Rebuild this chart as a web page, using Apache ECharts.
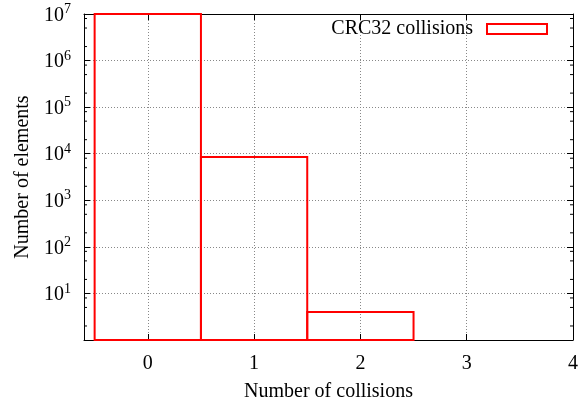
<!DOCTYPE html>
<html>
<head>
<meta charset="utf-8">
<script src="https://cdn.jsdelivr.net/npm/echarts@6/dist/echarts.min.js"></script>
<style>
  html, body { margin: 0; padding: 0; background: #fff; }
  #chart { width: 585px; height: 407px; }
</style>
</head>
<body>
<div id="chart"></div>
<script>
// number of collisions per element, and how many elements had it
var collisions = [0, 1, 2];
var counts = [9990000, 8500, 4];
var xTicks = [0, 1, 2, 3, 4];
var yTicks = [1, 10, 100, 1000, 10000, 100000, 1000000, 10000000];
var yMinorTicks = [];
yTicks.slice(0, -1).forEach(function (d) {
  [2, 5, 8].forEach(function (m) { yMinorTicks.push(d * m); });
});

var font = 'Liberation Serif';
var red = '#ff0000';

function yLabel(v) {
  var e = Math.round(Math.log10(v));
  if (e === 0) return '';
  return '{b|10}{e|' + e + '}';
}

var chart = echarts.init(document.getElementById('chart'));

var xBase = {
  type: 'value', min: -0.6, max: 4,
  axisLine: { show: true, onZero: false, lineStyle: { color: '#000', width: 1 } },
  axisTick: { show: true, inside: true, length: 6, customValues: xTicks, lineStyle: { color: '#000' } },
  splitLine: { show: false }
};
var yBase = {
  type: 'log', logBase: 10, min: 1, max: 10000000,
  axisLine: { show: true, onZero: false, lineStyle: { color: '#000', width: 1 } },
  axisTick: { show: true, inside: true, length: 6, lineStyle: { color: '#000' } },
  splitLine: { show: false }
};

chart.setOption({
  animation: false,
  textStyle: { fontFamily: font },
  grid: { left: 84, right: 12, top: 14, bottom: 64 },
  legend: {
    right: 32, top: 14,
    align: 'right',
    itemWidth: 60, itemHeight: 10, itemGap: 0,
    textStyle: { fontFamily: font, fontSize: 20, color: '#000', padding: [0, 9, 0, 0] },
    data: [{ name: 'CRC32 collisions', icon: 'rect',
      itemStyle: { color: 'transparent', borderColor: red, borderWidth: 2 } }]
  },
  xAxis: [
    Object.assign({}, xBase, {
      position: 'bottom',
      name: 'Number of collisions', nameLocation: 'middle', nameGap: 42,
      nameTextStyle: { fontFamily: font, fontSize: 20, color: '#000' },
      axisLabel: { show: true, customValues: xTicks, margin: 14, fontFamily: font, fontSize: 20, color: '#000' },
      splitLine: { show: true, lineStyle: { color: '#888', type: [1, 2], width: 1 } }
    }),
    Object.assign({}, xBase, { position: 'top', axisLabel: { show: false } })
  ],
  yAxis: [
    Object.assign({}, yBase, {
      position: 'left',
      name: 'Number of elements', nameLocation: 'middle', nameGap: 50,
      nameTextStyle: { fontFamily: font, fontSize: 20, color: '#000' },
      axisLabel: {
        show: true, margin: 13, formatter: yLabel,
        rich: {
          b: { fontFamily: font, fontSize: 20, color: '#000', verticalAlign: 'bottom' },
          e: { fontFamily: font, fontSize: 14, color: '#000', verticalAlign: 'top', padding: [0, 0, 9, 0] }
        }
      },
      splitLine: { show: true, lineStyle: { color: '#888', type: [1, 2], width: 1 } }
    }),
    Object.assign({}, yBase, { position: 'right', axisLabel: { show: false } })
  ],
  series: [
    {
      name: 'CRC32 collisions',
      type: 'custom',
      xAxisIndex: 0, yAxisIndex: 0,
      z: 5,
      data: collisions.map(function (c, i) { return [c, counts[i]]; }),
      renderItem: function (params, api) {
        var x = api.value(0), y = api.value(1);
        var p0 = api.coord([x - 0.5, y]);
        var p1 = api.coord([x + 0.5, 1]);
        return {
          type: 'rect',
          shape: { x: p0[0], y: p0[1], width: p1[0] - p0[0], height: p1[1] - p0[1] },
          style: { fill: 'none', stroke: red, lineWidth: 2 }
        };
      }
    },
    {
      // minor log ticks on left and right borders
      name: 'minor', type: 'custom', silent: true,
      xAxisIndex: 0, yAxisIndex: 0,
      data: yMinorTicks.map(function (v) { return [v]; }),
      renderItem: function (params, api) {
        var v = api.value(0);
        var l = api.coord([-0.6, v]);
        var r = api.coord([4, v]);
        var st = { stroke: '#000', lineWidth: 1 };
        return {
          type: 'group',
          children: [
            { type: 'line', shape: { x1: l[0], y1: l[1], x2: l[0] + 3, y2: l[1] }, style: st },
            { type: 'line', shape: { x1: r[0], y1: r[1], x2: r[0] - 3, y2: r[1] }, style: st }
          ]
        };
      }
    }
  ]
});
</script>
</body>
</html>
